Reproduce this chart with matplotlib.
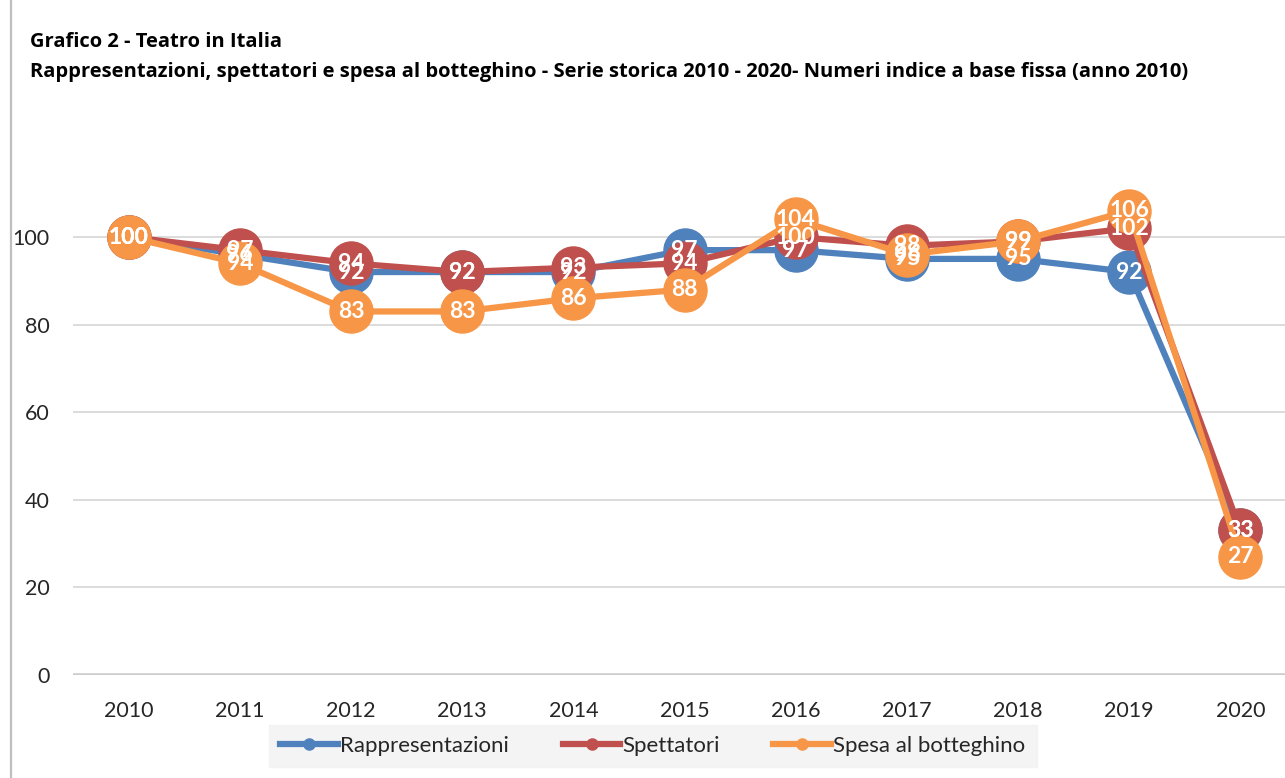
import matplotlib
matplotlib.use("Agg")
import matplotlib.pyplot as plt
from matplotlib.lines import Line2D

years = ["2010", "2011", "2012", "2013", "2014", "2015", "2016", "2017", "2018", "2019", "2020"]
rappresentazioni = [100, 96, 92, 92, 92, 97, 97, 95, 95, 92, 33]
spettatori = [100, 97, 94, 92, 93, 94, 100, 98, 99, 102, 33]
spesa = [100, 94, 83, 83, 86, 88, 104, 96, 99, 106, 27]
series_names = ["Rappresentazioni", "Spettatori", "Spesa al botteghino"]
colors = ["#4f81bd", "#c0504d", "#f79646"]
yticks = [0, 20, 40, 60, 80, 100]

title1 = "Grafico 2 - Teatro in Italia"
title2 = ("Rappresentazioni, spettatori e spesa al botteghino - Serie storica 2010 - 2020- "
          "Numeri indice a base fissa (anno 2010)")

plt.rcParams['font.family'] = ['Lato', 'DejaVu Sans']

W, H = 1285, 778
fig = plt.figure(figsize=(W / 100, H / 100), dpi=100)
fig.patch.set_facecolor("white")
fig.add_artist(Line2D([10.5 / W, 10.5 / W], [0, 1], transform=fig.transFigure,
                      color="#bfbfbf", lw=1.6))

left, right = 73, 1296
top, bottom = 149.4, 675
ax = fig.add_axes([left / W, 1 - bottom / H, (right - left) / W, (bottom - top) / H])
x = list(range(len(years)))
ax.set_xlim(-0.5, len(years) - 0.5)
ax.set_ylim(0, 120)
ax.set_yticks(yticks)
ax.set_xticks(x)
ax.set_xticklabels(years)
for s in ax.spines.values():
    s.set_visible(False)
ax.grid(axis="y", color="#d9d9d9", lw=1.3, zorder=0)
ax.axhline(0, color="#595959", lw=2.5, zorder=1)
ax.tick_params(axis="both", length=0, labelsize=15.5, colors="#262626")
ax.tick_params(axis="x", pad=19)
ax.tick_params(axis="y", pad=17)

data = [rappresentazioni, spettatori, spesa]
for i, (vals, c, name) in enumerate(zip(data, colors, series_names)):
    ax.plot(x, vals, color=c, lw=4.5, marker="o", markersize=31, label=name,
            zorder=3 + i, solid_capstyle="round")
for i, vals in enumerate(data):
    for xi, v in zip(x, vals):
        ax.text(xi, v, f"{v}", color="white", fontsize=16.5, fontweight="bold",
                ha="center", va="center", zorder=10)

fig.text(30 / W, 1 - 42 / H, title1, fontsize=14.5, fontweight="bold", va="center",
         color="black", family=["Open Sans", "DejaVu Sans"])
fig.text(30 / W, 1 - 72 / H, title2, fontsize=14.5, fontweight="bold", va="center",
         color="black", family=["Open Sans", "DejaVu Sans"])

handles = [Line2D([0], [0], color=c, lw=4.5, marker="o", markersize=8) for c in colors]
leg = fig.legend(handles, series_names, loc="center", bbox_to_anchor=(653 / W, 1 - 746 / H),
                 ncol=3, frameon=True, fontsize=16, handlelength=2.6, handletextpad=0.1,
                 columnspacing=2.4, borderpad=0.5)
leg.get_frame().set_facecolor("#f2f2f2")
leg.get_frame().set_edgecolor("#f2f2f2")
leg.get_frame().set_boxstyle("square", pad=0)
for t in leg.get_texts():
    t.set_color("#262626")

fig.savefig("out.png", dpi=100)
